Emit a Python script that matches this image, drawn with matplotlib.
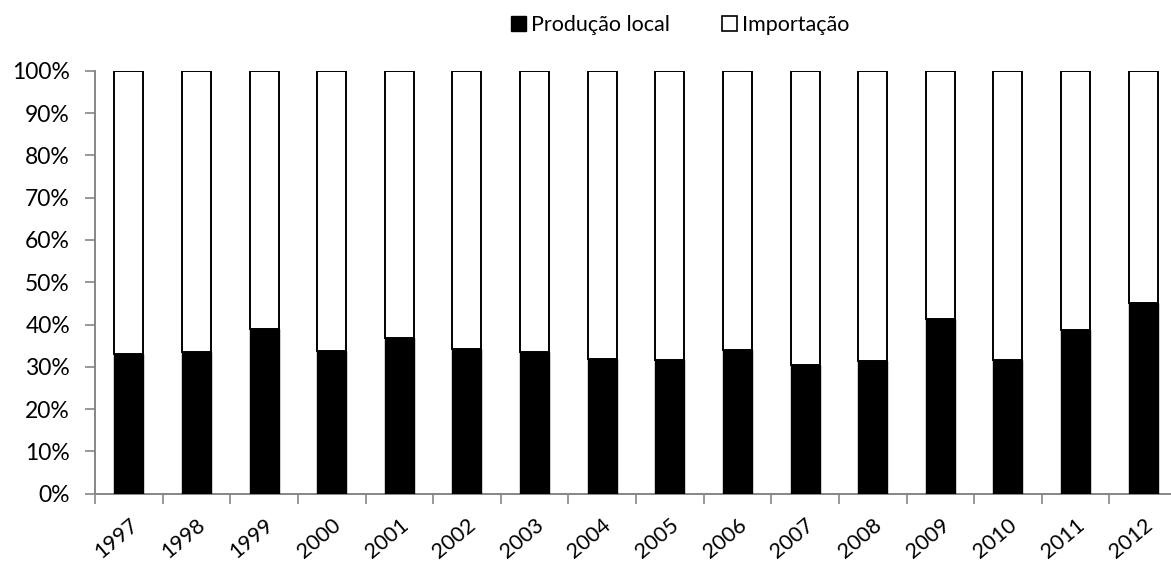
import matplotlib.pyplot as plt
import matplotlib.transforms as mtransforms
import numpy as np
from matplotlib.patches import Patch
from matplotlib.ticker import FixedLocator, PercentFormatter

plt.rcParams["font.family"] = ["Lato", "DejaVu Sans"]

years = ["1997", "1998", "1999", "2000", "2001", "2002", "2003", "2004",
         "2005", "2006", "2007", "2008", "2009", "2010", "2011", "2012"]
producao_local = [33.0, 33.6, 39.0, 33.8, 36.7, 34.3, 33.6, 31.9,
                  31.7, 33.9, 30.5, 31.3, 41.4, 31.7, 38.6, 45.1]
importacao = [100 - v for v in producao_local]

AXIS_GREY = "#868686"

fig = plt.figure(figsize=(11.71, 5.62), dpi=100)
ax = fig.add_axes([95 / 1171, 68.3 / 562, 1082 / 1171, 423 / 562])

x = np.arange(len(years))
ax.bar(x, producao_local, width=0.43, color="black", edgecolor="black",
       linewidth=1.0, zorder=3)
ax.bar(x, importacao, width=0.43, bottom=producao_local, color="white",
       edgecolor="black", linewidth=1.4, zorder=3)

ax.set_xlim(-0.5, len(years) - 0.5)
ax.set_ylim(0, 100)
ax.yaxis.set_major_locator(FixedLocator(range(0, 101, 10)))
ax.yaxis.set_major_formatter(PercentFormatter(decimals=0))

# category labels at centres, tick marks on the boundaries
ax.set_xticks(x)
ax.set_xticklabels(years, rotation=40, ha="right", va="top",
                   rotation_mode="anchor", fontsize=15.5)
shift = mtransforms.ScaledTranslation(0.02, 0, fig.dpi_scale_trans)
for label in ax.get_xticklabels():
    label.set_transform(label.get_transform() + shift)
ax.set_xticks(np.arange(-0.5, len(years), 1.0), minor=True)
ax.tick_params(axis="x", which="major", length=0, pad=15)
ax.tick_params(axis="x", which="minor", length=7, width=1.2, color=AXIS_GREY)
ax.tick_params(axis="y", length=7, width=1.2, color=AXIS_GREY, pad=11,
               labelsize=16.5)

for side in ("top", "right"):
    ax.spines[side].set_visible(False)
for side in ("left", "bottom"):
    ax.spines[side].set_color(AXIS_GREY)
    ax.spines[side].set_linewidth(1.4)

handles = [
    Patch(facecolor="black", edgecolor="black", label="Produção local"),
    Patch(facecolor="white", edgecolor="black", linewidth=1.2, label="Importação"),
]
fig.legend(handles=handles, loc="center", bbox_to_anchor=(0.581, 0.955),
           ncol=2, frameon=False, fontsize=15.5, handlelength=0.7,
           handleheight=0.7, handletextpad=0.25, columnspacing=2.4)

fig.savefig("out.png", dpi=100)
